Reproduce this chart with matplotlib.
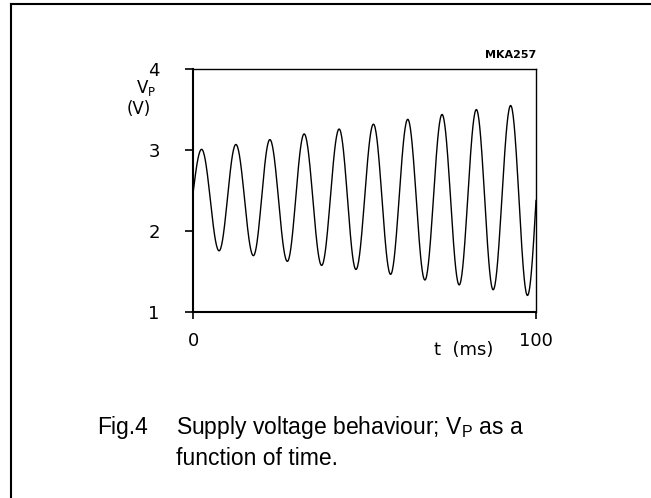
import numpy as np
import matplotlib
matplotlib.use("Agg")
import matplotlib.pyplot as plt
from matplotlib.lines import Line2D

plt.rcParams['mathtext.fontset'] = 'custom'
plt.rcParams['mathtext.rm'] = 'Liberation Sans'

# values (t in ms, Vp in V)
t_start, v_start = 0.0, 2.47
t_end, v_end = 100.0, 2.38
t_ext = [2.5, 7.6, 12.5, 17.6, 22.4, 27.5, 32.4, 37.5, 42.6, 47.5,
         52.6, 57.6, 62.6, 67.6, 72.6, 77.6, 82.6, 87.5, 92.6, 97.5]
v_ext = [3.01, 1.76, 3.07, 1.70, 3.13, 1.63, 3.20, 1.58, 3.26, 1.53,
         3.32, 1.47, 3.38, 1.40, 3.44, 1.34, 3.50, 1.28, 3.55, 1.21]
y_ticks = [1, 2, 3, 4]
x_ticks = [0, 100]


def smooth_curve():
    # join the read extrema with half-cosine arcs (rendering only)
    ts, vs = [], []
    s = np.linspace(0, 1, 40)
    # rising quarter wave from start to first peak
    ts.append(t_start + (t_ext[0] - t_start) * s)
    vs.append(v_start + (v_ext[0] - v_start) * np.sin(np.pi / 2 * s))
    for i in range(len(t_ext) - 1):
        ts.append(t_ext[i] + (t_ext[i + 1] - t_ext[i]) * s)
        vs.append(v_ext[i] + (v_ext[i + 1] - v_ext[i]) * (1 - np.cos(np.pi * s)) / 2)
    ts.append(t_ext[-1] + (t_end - t_ext[-1]) * s)
    vs.append(v_ext[-1] + (v_end - v_ext[-1]) * (1 - np.cos(np.pi / 2 * s)))
    return np.concatenate(ts), np.concatenate(vs)


fig = plt.figure(figsize=(6.51, 4.98), dpi=100)
ax = fig.add_axes([0.2965, 0.3725, 0.5269, 0.489])

tt, vv = smooth_curve()
ax.plot(tt, vv, color='black', lw=1.0)

ax.set_xlim(0, 100)
ax.set_ylim(1, 4)
ax.set_xticks(x_ticks)
ax.set_yticks(y_ticks)
ax.set_xticklabels([str(x) for x in x_ticks], fontsize=13, family='DejaVu Sans')
ax.set_yticklabels([str(y) for y in y_ticks], fontsize=13, family='DejaVu Sans')
ax.tick_params(axis='y', direction='out', length=6, width=1.2, pad=18)
ax.tick_params(axis='x', direction='out', length=5, width=1.2, pad=9)
for side in ['left', 'bottom']:
    ax.spines[side].set_linewidth(1.5)
for side in ['top', 'right']:
    ax.spines[side].set_linewidth(1.0)

# axis labels placed like the original
fig.text(136 / 651, 1 - 93 / 498, r'V$_{\mathregular{P}}$', fontsize=12,
         family='DejaVu Sans', ha='left', va='baseline')
fig.text(127 / 651, 1 - 114 / 498, '(V)', fontsize=12,
         family='DejaVu Sans', ha='left', va='baseline')
fig.text(464 / 651, 1 - 350 / 498, 't  (ms)', fontsize=13,
         family='DejaVu Sans', ha='center', va='center')
fig.text(536 / 651, 1 - 55 / 498, 'MKA257', fontsize=8, fontweight='bold',
         family='DejaVu Sans', ha='right', va='center')

# caption
fig.text(97 / 651, 1 - 434 / 498, 'Fig.4', fontsize=16.5,
         family='Liberation Sans', ha='left', va='baseline')
fig.text(176 / 651, 1 - 434 / 498,
         r'Supply voltage behaviour; V$_{\mathregular{P}}$ as a',
         fontsize=16.5, family='Liberation Sans', ha='left', va='baseline')
fig.text(176 / 651, 1 - 465 / 498, 'function of time.', fontsize=16.5,
         family='Liberation Sans', ha='left', va='baseline')

# outer frame (left and top edges only)
fig.add_artist(Line2D([11 / 651, 11 / 651], [0, 1 - 4 / 498],
                      transform=fig.transFigure, color='black', lw=1.5))
fig.add_artist(Line2D([11 / 651, 1], [1 - 4 / 498, 1 - 4 / 498],
                      transform=fig.transFigure, color='black', lw=1.5))

fig.savefig('out.png', dpi=100)
